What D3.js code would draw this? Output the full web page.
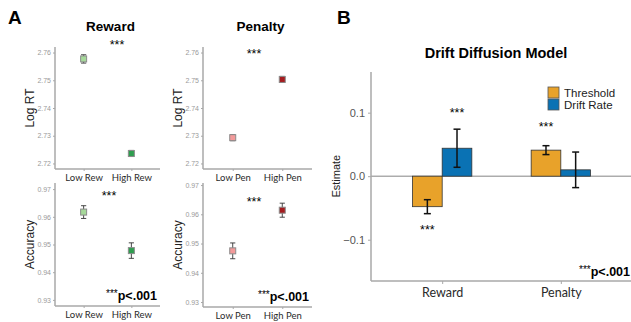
<!DOCTYPE html>
<html>
<head>
<meta charset="utf-8">
<script src="https://cdn.jsdelivr.net/npm/d3@7"></script>
<style>
  body { margin: 0; background: #fff; }
  svg { display: block; font-family: "Liberation Sans", Arial, sans-serif; }
</style>
</head>
<body>
<svg id="fig"></svg>
<script>
// ---- data (panel A) ----
const rewCats = ["Low Rew", "High Rew"];
const penCats = ["Low Pen", "High Pen"];
const rtRewMean = [2.7577, 2.7236];
const rtRewErr = [0.0015, 0.0011];
const rtPenMean = [2.7293, 2.7503];
const rtPenErr = [0.0011, 0.0011];
const accRewMean = [0.9617, 0.9478];
const accRewErr = [0.0023, 0.0028];
const accPenMean = [0.9475, 0.9614];
const accPenErr = [0.0027, 0.0024];
const rtTicks = [2.72, 2.73, 2.74, 2.75, 2.76];
const accTicks = [0.93, 0.94, 0.95, 0.96, 0.97];

// ---- data (panel B) ----
const ddmGroups = ["Reward", "Penalty"];
const ddmSeries = ["Threshold", "Drift Rate"];
const thresholdVals = [-0.048, 0.041];
const thresholdErr = [0.011, 0.007];
const driftVals = [0.044, 0.010];
const driftErr = [0.030, 0.028];
const ddmTicks = [-0.1, 0.0, 0.1];

const W = 631, H = 322;
const svg = d3.select("#fig").attr("width", W).attr("height", H);

const rewColors = ["#a6d99a", "#2e9e4f"];
const penColors = ["#f39a9a", "#a51c1f"];
const axisGrey = "#a8a8a8";

// "***p<.001" note, stars raised
function pNote(sel, x, y) {
    const t = sel.append("text")
        .attr("x", x)
        .attr("y", y)
        .attr("text-anchor", "end")
        .attr("font-weight", "bold")
        .attr("font-size", 12.5);
    t.append("tspan").attr("font-size", 10).attr("font-weight", "normal").attr("dy", -3).text("***");
    t.append("tspan").attr("dy", 3).text("p<.001");
}

function smallPanel(cfg) {
    const g = svg.append("g");
    const y = d3.scaleLinear().domain(cfg.domain).range([cfg.bottom, cfg.top]);
    const x = d3.scalePoint().domain(cfg.cats).range([cfg.left, cfg.right]).padding(0.6);

    // axes lines
    g.append("line").attr("x1", cfg.left).attr("x2", cfg.left)
        .attr("y1", cfg.top).attr("y2", cfg.bottom)
        .attr("stroke", axisGrey).attr("stroke-width", 1.5);
    g.append("line").attr("x1", cfg.left).attr("x2", cfg.right)
        .attr("y1", cfg.bottom).attr("y2", cfg.bottom)
        .attr("stroke", axisGrey).attr("stroke-width", 1.5);

    const yAx = g.append("g").attr("transform", "translate(" + cfg.left + ",0)")
        .call(d3.axisLeft(y).tickValues(cfg.ticks).tickSize(2).tickPadding(2)
            .tickFormat(d3.format(cfg.fmt)));
    yAx.select(".domain").remove();
    yAx.selectAll("line").attr("stroke", axisGrey);
    yAx.selectAll("text").attr("fill", "#9a9a9a").attr("font-size", 7)
        .attr("font-family", "Liberation Sans, sans-serif");

    const xAx = g.append("g").attr("transform", "translate(0," + cfg.bottom + ")")
        .call(d3.axisBottom(x).tickSize(2).tickPadding(3));
    xAx.select(".domain").remove();
    xAx.selectAll("line").attr("stroke", axisGrey);
    xAx.selectAll("text").attr("fill", "#2a2a2a").attr("font-size", 9.5)
        .attr("font-family", "Lato, sans-serif");

    // y label
    g.append("text")
        .attr("transform", "translate(" + cfg.labelX + "," + ((cfg.top + cfg.bottom) / 2) + ") rotate(-90)")
        .attr("text-anchor", "middle")
        .attr("font-size", 12)
        .attr("fill", "#222")
        .text(cfg.yLabel);

    // error bars
    cfg.means.forEach((m, i) => {
        const cx = x(cfg.cats[i]);
        const lo = y(m - cfg.errs[i]), hi = y(m + cfg.errs[i]);
        g.append("line").attr("x1", cx).attr("x2", cx).attr("y1", lo).attr("y2", hi)
            .attr("stroke", "#333").attr("stroke-width", 0.9);
        [lo, hi].forEach(yy => {
            g.append("line").attr("x1", cx - 2.6).attr("x2", cx + 2.6).attr("y1", yy).attr("y2", yy)
                .attr("stroke", "#333").attr("stroke-width", 0.9);
        });
    });
    // points
    g.selectAll("rect.pt")
        .data(cfg.means)
        .enter()
        .append("rect")
        .attr("x", (d, i) => x(cfg.cats[i]) - 3)
        .attr("y", d => y(d) - 3)
        .attr("width", 6)
        .attr("height", 6)
        .attr("fill", (d, i) => cfg.colors[i])
        .attr("stroke", "#8c8c8c")
        .attr("stroke-width", 1);

    // significance stars
    g.append("text")
        .attr("x", cfg.starX)
        .attr("y", y(cfg.starY) + 6)
        .attr("text-anchor", "middle")
        .attr("font-size", 12.5)
        .text("***");

    if (cfg.title) {
        g.append("text")
            .attr("x", (cfg.left + cfg.right) / 2 + 3)
            .attr("y", 31)
            .attr("text-anchor", "middle")
            .attr("font-size", 13.5)
            .attr("font-weight", "bold")
            .text(cfg.title);
    }
    if (cfg.pNote) pNote(g, cfg.right - 3, cfg.bottom - 6);
}

smallPanel({
    left: 55, right: 160, top: 47, bottom: 169, labelX: 34,
    domain: [2.718, 2.762], ticks: rtTicks, fmt: ".2f",
    cats: rewCats, means: rtRewMean, errs: rtRewErr, colors: rewColors,
    yLabel: "Log RT", title: "Reward", starX: 117, starY: 2.7635
});
smallPanel({
    left: 203, right: 312, top: 47, bottom: 169, labelX: 182,
    domain: [2.718, 2.762], ticks: rtTicks, fmt: ".2f",
    cats: penCats, means: rtPenMean, errs: rtPenErr, colors: penColors,
    yLabel: "Log RT", title: "Penalty", starX: 254, starY: 2.7603
});
smallPanel({
    left: 55, right: 160, top: 183, bottom: 306, labelX: 34,
    domain: [0.9278, 0.9722], ticks: accTicks, fmt: ".2f",
    cats: rewCats, means: accRewMean, errs: accRewErr, colors: rewColors,
    yLabel: "Accuracy", starX: 109, starY: 0.9684, pNote: true
});
smallPanel({
    left: 203, right: 312, top: 183, bottom: 307, labelX: 182,
    domain: [0.9283, 0.9707], ticks: accTicks, fmt: ".2f",
    cats: penCats, means: accPenMean, errs: accPenErr, colors: penColors,
    yLabel: "Accuracy", starX: 254, starY: 0.9650, pNote: true
});

// panel letters
svg.append("text").attr("x", 8).attr("y", 24).attr("font-size", 19).attr("font-weight", "bold").text("A");
svg.append("text").attr("x", 337).attr("y", 24).attr("font-size", 19).attr("font-weight", "bold").text("B");

// ---- panel B ----
const bLeft = 371, bRight = 632, bTop = 72, bBottom = 281;
const gB = svg.append("g");
const yB = d3.scaleLinear().domain([-0.165, 0.164]).range([bBottom, bTop]);
const xB = d3.scalePoint().domain(ddmGroups).range([bLeft, bRight]).padding(0.6);
const barW = xB.step() * 0.25;
const xSub = d3.scaleBand().domain(ddmSeries).range([-barW, barW]);
const ddmColors = { "Threshold": "#e8a22a", "Drift Rate": "#0a72b4" };

gB.append("text")
    .attr("x", 496).attr("y", 58)
    .attr("text-anchor", "middle")
    .attr("font-size", 14.5).attr("font-weight", "bold")
    .text("Drift Diffusion Model");

// zero line
gB.append("line").attr("x1", bLeft).attr("x2", W).attr("y1", yB(0)).attr("y2", yB(0))
    .attr("stroke", "#666").attr("stroke-width", 0.8);

const yAxB = gB.append("g").attr("transform", "translate(" + bLeft + ",0)")
    .call(d3.axisLeft(yB).tickValues(ddmTicks).tickSize(3).tickPadding(3)
        .tickFormat(d => d === 0 ? "0.0" : d3.format(".1f")(d).replace("-", "\u2212")));
yAxB.select(".domain").remove();
yAxB.selectAll("line").attr("stroke", axisGrey);
yAxB.selectAll("text").attr("fill", "#555").attr("font-size", 11);

gB.append("line").attr("x1", bLeft).attr("x2", bLeft).attr("y1", bTop).attr("y2", bBottom)
    .attr("stroke", axisGrey).attr("stroke-width", 1.5);
gB.append("line").attr("x1", bLeft).attr("x2", W).attr("y1", bBottom).attr("y2", bBottom)
    .attr("stroke", axisGrey).attr("stroke-width", 1.5);

const xAxB = gB.append("g").attr("transform", "translate(0," + bBottom + ")")
    .call(d3.axisBottom(xB).tickSize(3).tickPadding(4));
xAxB.select(".domain").remove();
xAxB.selectAll("line").attr("stroke", axisGrey);
xAxB.selectAll("text").attr("fill", "#2a2a2a").attr("font-size", 12.5)
    .attr("font-family", "Lato, sans-serif");

gB.append("text")
    .attr("transform", "translate(340," + yB(0) + ") rotate(-90)")
    .attr("text-anchor", "middle")
    .attr("font-size", 11)
    .attr("fill", "#222")
    .text("Estimate");

const barRows = [];
ddmGroups.forEach((grp, i) => {
    barRows.push({ grp: grp, s: "Threshold", v: thresholdVals[i], e: thresholdErr[i] });
    barRows.push({ grp: grp, s: "Drift Rate", v: driftVals[i], e: driftErr[i] });
});

gB.selectAll("rect.bar")
    .data(barRows)
    .enter()
    .append("rect")
    .attr("x", d => xB(d.grp) + xSub(d.s))
    .attr("y", d => yB(Math.max(0, d.v)))
    .attr("width", xSub.bandwidth())
    .attr("height", d => Math.abs(yB(d.v) - yB(0)))
    .attr("fill", d => ddmColors[d.s])
    .attr("stroke", "#333")
    .attr("stroke-width", 0.8);

barRows.forEach(d => {
    const cx = xB(d.grp) + xSub(d.s) + xSub.bandwidth() / 2;
    const lo = yB(d.v - d.e), hi = yB(d.v + d.e);
    gB.append("line").attr("x1", cx).attr("x2", cx).attr("y1", lo).attr("y2", hi)
        .attr("stroke", "#111").attr("stroke-width", 1.5);
    [lo, hi].forEach(yy => {
        gB.append("line").attr("x1", cx - 3.5).attr("x2", cx + 3.5).attr("y1", yy).attr("y2", yy)
            .attr("stroke", "#111").attr("stroke-width", 1.5);
    });
});

// stars in panel B
const ddmStars = [
    { grp: "Reward", s: "Drift Rate", y: 0.102 },
    { grp: "Penalty", s: "Threshold", y: 0.080 },
    { grp: "Reward", s: "Threshold", y: -0.082 }
];
ddmStars.forEach(d => {
    gB.append("text")
        .attr("x", xB(d.grp) + xSub(d.s) + xSub.bandwidth() / 2)
        .attr("y", yB(d.y) + 6)
        .attr("text-anchor", "middle")
        .attr("font-size", 12.5)
        .text("***");
});

pNote(gB, W - 1, 276);

// legend
const leg = gB.append("g").attr("transform", "translate(548,87)");
ddmSeries.forEach((s, i) => {
    leg.append("rect").attr("x", 0).attr("y", i * 12).attr("width", 11).attr("height", 11)
        .attr("fill", ddmColors[s]).attr("stroke", "#555").attr("stroke-width", 0.8);
    leg.append("text").attr("x", 16).attr("y", i * 12 + 10)
        .attr("font-size", 11.5).attr("fill", "#222").text(s);
});
</script>
</body>
</html>
